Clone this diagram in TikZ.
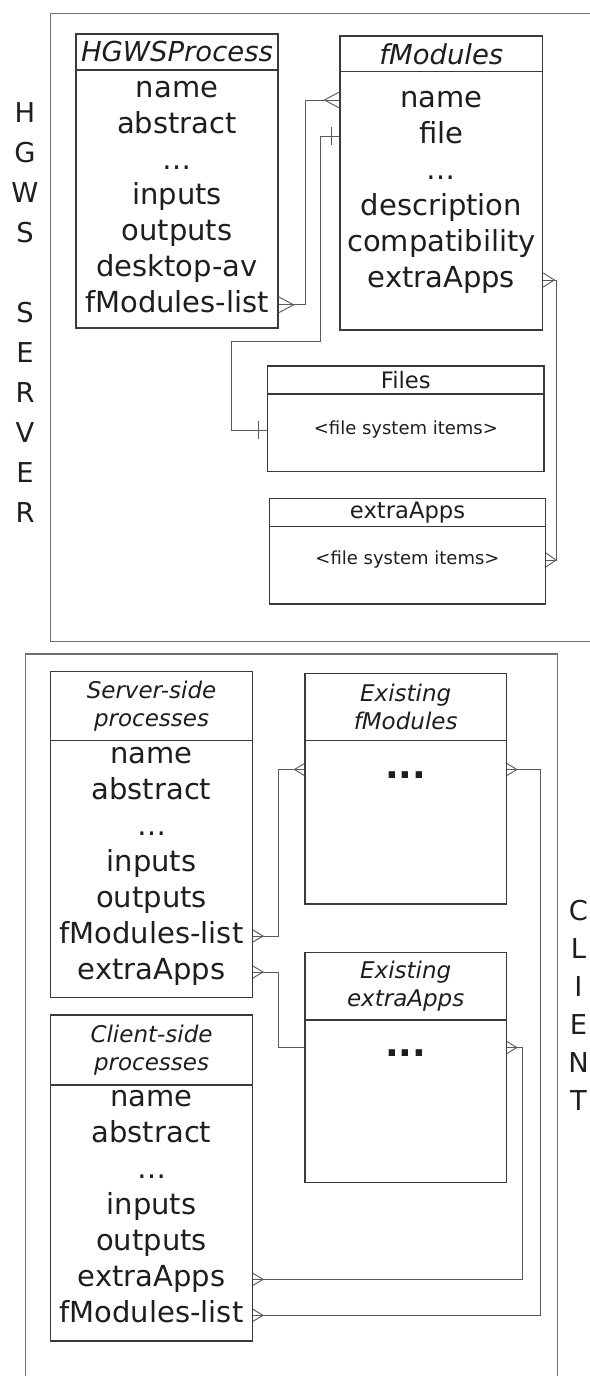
\documentclass[tikz,border=0pt]{standalone}
\usepackage{fontspec}
\setmainfont{DejaVu Sans}
\usetikzlibrary{fit}

\definecolor{linecol}{HTML}{3A3A3A}
\definecolor{framecol}{HTML}{707070}
\definecolor{conncol}{HTML}{5A5A5A}
\definecolor{textcol}{HTML}{1E1E1E}

\tikzset{
  box/.style={draw=linecol, line width=0.9pt, inner sep=0pt},
  frame/.style={draw=framecol, line width=1pt, inner sep=0pt},
  conn/.style={draw=conncol, line width=0.7pt},
  row/.style={font=\fontsize{21.75}{26}\selectfont, text height=15.7pt, text depth=4.3pt, inner sep=0pt, text=textcol},
  title/.style={font=\itshape\fontsize{20.6}{24}\selectfont, inner sep=0pt, text=textcol},
  ctitle/.style={font=\itshape\fontsize{17.25}{21}\selectfont, align=center, inner sep=0pt, text=textcol},
  ftitle/.style={font=\fontsize{17}{20}\selectfont, inner sep=0pt, text=textcol},
  items/.style={font=\fontsize{13.5}{16}\selectfont, inner sep=0pt, text=textcol},
  side/.style={font=\fontsize{20.5}{24}\selectfont, inner sep=0pt, text=textcol},
  bigdots/.style={font=\bfseries\fontsize{27}{30}\selectfont, text height=19.4pt, text depth=5.4pt, inner sep=0pt, text=textcol}
}

% many-end of a connector
\newcommand{\crowfoot}[3]{\draw[conn] (#1) ++(0,-#3) -- ++(#2,#3) -- ++(-#2,#3);}

\begin{document}
\begin{tikzpicture}[x=0.75pt, y=-0.75pt]
 \useasboundingbox (0,0) rectangle (589,1376);

 % server part
 \node[frame, fit={(50.7,13.3) (620,641.7)}] (server) {};
 \foreach \c [count=\i] in {H,G,W,S,,S,E,R,V,E,R}
   \node[side] (srv-\i) at (25, 73+40*\i) {\c};

 \node[box, fit={(75.9,34) (278,70)}] (hgwsh) {};
 \node[title] (hgwst) at (hgwsh) {HGWSProcess};
 \node[box, fit={(75.9,70) (278,328)}] (hgws) {};
 \foreach \t [count=\i] in {name,abstract,\dots,inputs,outputs,desktop-av,fModules-list}
   \node[row] (hgws-\i) at (177, 54.2+35.8*\i) {\t};

 \node[box, fit={(340,36) (542.7,71.7)}] (fmodh) {};
 \node[title] (fmodt) at (fmodh) {fModules};
 \node[box, fit={(340,71.7) (542.7,330)}] (fmod) {};
 \foreach \t [count=\i] in {name,file,\dots,description,compatibility,extraApps}
   \node[row] (fmod-\i) at (441.4, 64+36*\i) {\t};

 \node[box, fit={(267.8,366) (543.9,394)}] (filesh) {};
 \node[ftitle] (filest) at (filesh) {Files};
 \node[box, fit={(267.8,394) (543.9,471.7)}] (files) {};
 \node[items] (filesb) at (405.9,430) {<file system items>};

 \node[box, fit={(269.7,498.3) (545.4,526.7)}] (xappsh) {};
 \node[ftitle] (xappst) at (xappsh) {extraApps};
 \node[box, fit={(269.7,526.7) (545.4,604)}] (xapps) {};
 \node[items] (xappsb) at (407.5,560) {<file system items>};

 \draw[conn] (hgws.east |- hgws-7) -- ++(27,0) |- (fmod.west |- fmod-1);
 \crowfoot{hgws.east |- hgws-7}{15}{8}
 \crowfoot{fmod.west |- fmod-1}{-15}{8}
 \draw[conn] (fmod.west |- fmod-2) -- ++(-19,0) -- ++(0,205.3) -- ++(-89,0) |- (files.west |- filesb);
 \draw[conn] (fmod.west |- fmod-2) ++(-8,-9) -- ++(0,18);
 \draw[conn] (files.west |- filesb) ++(-9,-9) -- ++(0,18);
 \draw[conn] (fmod.east |- fmod-6) -- ++(13.3,0) |- (xapps.east |- xappsb);
 \crowfoot{fmod.east |- fmod-6}{11}{7}
 \crowfoot{xapps.east |- xappsb}{10}{7}

 % client part
 \node[frame, fit={(25.5,654) (557.8,1400)}] (client) {};
 \foreach \c [count=\i] in {C,L,I,E,N,T}
   \node[side] (cli-\i) at (578.5, 873+38*\i) {\c};

 \node[box, fit={(50.7,671.7) (252.4,740.7)}] (ssph) {};
 \node[ctitle] (sspt) at (ssph) {Server-side\\processes};
 \node[box, fit={(50.7,740.7) (252.4,997.7)}] (ssp) {};
 \foreach \t [count=\i] in {name,abstract,\dots,inputs,outputs,fModules-list,extraApps}
   \node[row] (ssp-\i) at (151.5, 720+36*\i) {\t};

 \node[box, fit={(305,673.3) (506.3,740.7)}] (exfh) {};
 \node[ctitle] (exft) at (exfh) {Existing\\fModules};
 \node[box, fit={(305,740.7) (506.3,904)}] (exf) {};
 \node[bigdots] (exfd) at (405.6,769.5) {...};

 \node[box, fit={(305,952.7) (506.3,1020)}] (exah) {};
 \node[ctitle] (exat) at (exah) {Existing\\extraApps};
 \node[box, fit={(305,1020) (506.3,1182.3)}] (exa) {};
 \node[bigdots] (exad) at (405.6,1047.5) {...};

 \node[box, fit={(50.7,1015) (252.4,1085)}] (csph) {};
 \node[ctitle] (cspt) at (csph) {Client-side\\processes};
 \node[box, fit={(50.7,1085) (252.4,1341)}] (csp) {};
 \foreach \t [count=\i] in {name,abstract,\dots,inputs,outputs,extraApps,fModules-list}
   \node[row] (csp-\i) at (151.5, 1063.3+36*\i) {\t};

 \draw[conn] (ssp.east |- ssp-6) -- ++(25.6,0) |- (exf.west |- exfd);
 \draw[conn] (ssp.east |- ssp-7) -- ++(25.6,0) |- (exa.west |- exad);
 \draw[conn] (exf.east |- exfd) -- ++(33.4,0) |- (csp.east |- csp-7);
 \draw[conn] (exa.east |- exad) -- ++(15.7,0) |- (csp.east |- csp-6);
 \crowfoot{ssp.east |- ssp-6}{10}{6}
 \crowfoot{exf.west |- exfd}{-10}{6}
 \crowfoot{ssp.east |- ssp-7}{10}{6}
 \crowfoot{exf.east |- exfd}{10}{6}
 \crowfoot{exa.east |- exad}{10}{6}
 \crowfoot{csp.east |- csp-6}{10}{6}
 \crowfoot{csp.east |- csp-7}{10}{6}
\end{tikzpicture}
\end{document}
